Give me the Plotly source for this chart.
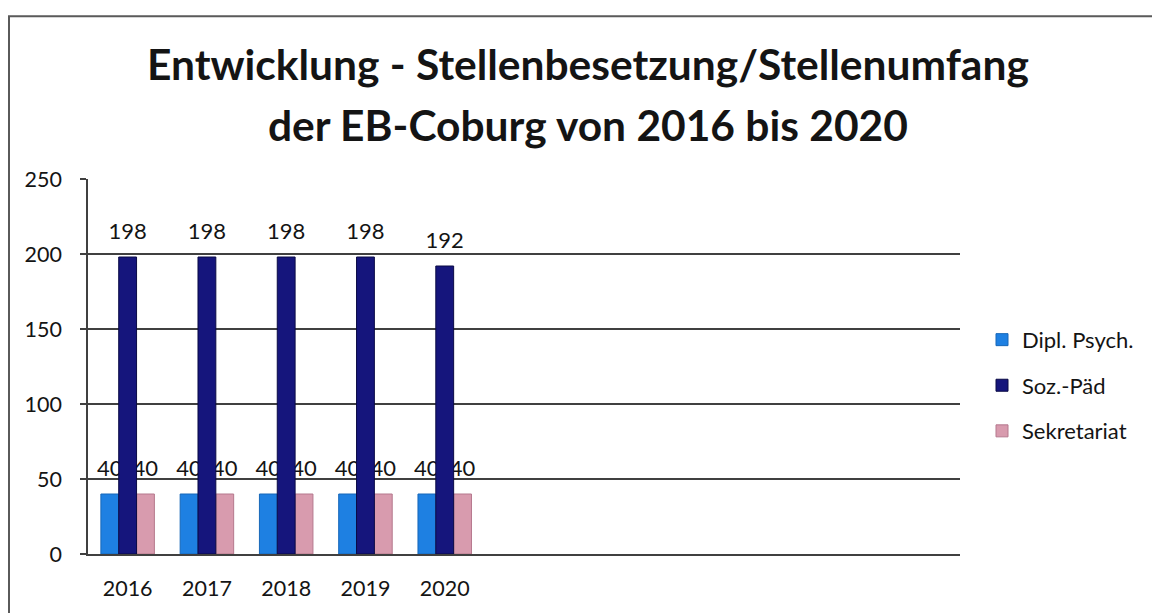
import plotly.graph_objects as go

years = ["2016", "2017", "2018", "2019", "2020"]
dipl_psych = [40, 40, 40, 40, 40]
soz_paed = [198, 198, 198, 198, 192]
sekretariat = [40, 40, 40, 40, 40]

series_names = ["Dipl. Psych.", "Soz.-Päd", "Sekretariat"]
title_lines = ["Entwicklung - Stellenbesetzung/Stellenumfang",
               "der EB-Coburg von 2016 bis 2020"]

FONT = "Lato"
TXT = "#141414"
GRID = "#404040"

W, H = 1152, 613
L, R, T, B = 88, 192, 179, 56
PW, PH = W - L - R, H - T - B

label_tpl = ("<span style='font-size:22px'>%{y}</span><br>"
             "<span style='color:rgba(0,0,0,0)'>.</span>")


def bar(name, vals, color, line, offset, rank):
    return go.Bar(
        name=name, x=years, y=vals,
        width=0.225, offset=offset,
        marker=dict(color=color, line=dict(color=line, width=1)),
        texttemplate=label_tpl, textposition="outside",
        constraintext="none", cliponaxis=False,
        textfont=dict(family=FONT, size=10, color=TXT),
        legendrank=rank, legendgroup=name,
        hoverinfo="skip",
    )


fig = go.Figure()
fig.add_trace(bar(series_names[0], dipl_psych, "#1E80E2", "#1767b8", -0.3375, 1))
fig.add_trace(bar(series_names[2], sekretariat, "#D89BAE", "#b5788d", 0.1125, 3))
fig.add_trace(bar(series_names[1], soz_paed, "#15157C", "#0a0a45", -0.1125, 2))

fig.update_layout(
    width=W, height=H,
    margin=dict(l=L, r=R, t=T, b=B),
    paper_bgcolor="white", plot_bgcolor="white",
    barmode="overlay",
    font=dict(family=FONT, color=TXT),
    showlegend=True,
    legend=dict(
        x=(982 - L) / PW, xanchor="left",
        y=(T + PH - 387) / PH, yanchor="middle",
        font=dict(family=FONT, size=22, color=TXT),
        tracegroupgap=14,
        bgcolor="rgba(0,0,0,0)",
    ),
    xaxis=dict(
        type="category", range=[-0.5, 10.5],
        showline=True, linecolor=GRID, linewidth=1.6,
        showgrid=False, ticks="", ticklabelstandoff=14,
        tickfont=dict(family=FONT, size=21.5, color=TXT),
        fixedrange=True,
    ),
    yaxis=dict(
        range=[0, 250], dtick=50, tick0=0,
        showline=True, linecolor=GRID, linewidth=1.6,
        showgrid=True, gridcolor=GRID, gridwidth=1.5,
        zeroline=False,
        ticks="outside", ticklen=6, tickcolor=GRID, tickwidth=1.5,
        ticklabelstandoff=14,
        tickfont=dict(family=FONT, size=21.5, color=TXT),
        fixedrange=True,
    ),
)

# two-line title
title_x = (588 - L) / PW
for line, ypix in zip(title_lines, [63, 124]):
    fig.add_annotation(
        text=line, xref="paper", yref="paper",
        x=title_x, y=(T + PH - ypix) / PH,
        xanchor="center", yanchor="middle", showarrow=False,
        font=dict(family=FONT, size=42.5, color=TXT, weight="bold"),
    )

# outer chart frame
fig.add_shape(
    type="rect", xref="paper", yref="paper",
    x0=(9 - L) / PW, x1=(W + 20 - L) / PW,
    y0=(T + PH - (H + 20)) / PH, y1=(T + PH - 15) / PH,
    line=dict(color="#5a5a5a", width=2), fillcolor="rgba(0,0,0,0)",
    layer="below",
)

fig.write_html("out.html")
